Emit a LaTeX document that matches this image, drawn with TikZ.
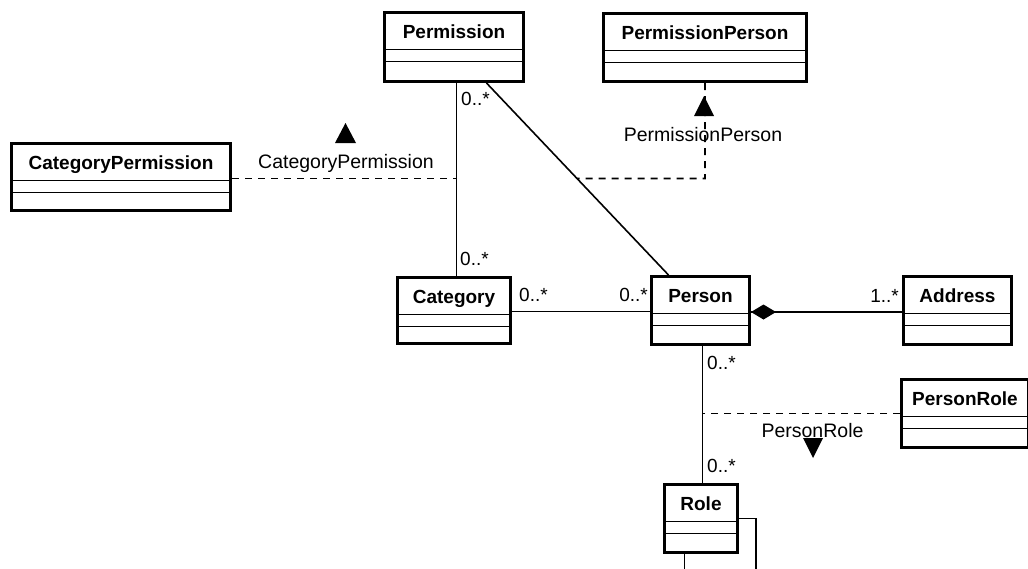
\documentclass[tikz,border=0pt]{standalone}
\usepackage{fontspec}
\setmainfont{Liberation Sans}
\usetikzlibrary{calc}

\tikzset{
  classbox/.style={draw=black, line width=3pt, inner sep=0pt, fill=white, anchor=north west},
  classtitle/.style={font=\fontsize{19}{22}\selectfont\bfseries, inner sep=0pt, anchor=base},
  divider/.style={line width=1.6pt},
  assoc/.style={line width=1.6pt},
  assocclass/.style={line width=1.7pt, dash pattern=on 7pt off 6pt},
  mult/.style={font=\fontsize{19}{22}\selectfont, inner sep=0pt},
  assocname/.style={font=\fontsize{19.5}{22}\selectfont, inner sep=0pt, anchor=base},
  navtri/.style={fill=black},
}

% UML class: name, left, top, width, height, title
\newcommand\umlclass[6]{%
  \node[classbox, minimum width=#4pt, minimum height=#5pt] (#1) at (#2,#3) {};
  \node[classtitle] (#1-title) at ([yshift=-27pt]#1.north) {#6};
  \draw[divider] ([yshift=-38.5pt]#1.north west) -- ([yshift=-38.5pt]#1.north east);
  \draw[divider] ([yshift=-50.5pt]#1.north west) -- ([yshift=-50.5pt]#1.north east);
}

\begin{document}
\begin{tikzpicture}[x=1pt, y=-1pt]
  \useasboundingbox (0,0) rectangle (1028,568);
  \clip (0,0) rectangle (1028,568);

  % classes
  \umlclass{perm}{383}{11}{139}{69}{Permission}
  \umlclass{permperson}{602}{12}{203}{68}{PermissionPerson}
  \umlclass{catperm}{10}{142}{219}{67}{CategoryPermission}
  \umlclass{cat}{396}{276}{113}{66}{Category}
  \umlclass{person}{650}{275}{98}{68}{Person}
  \umlclass{address}{902}{275}{108}{68}{Address}
  \umlclass{personrole}{900}{378}{127}{68}{PersonRole}
  \umlclass{role}{663}{483}{73}{68}{Role}

  % association end points
  \coordinate (pcTop) at ([xshift=2.5pt]perm.south);
  \coordinate (pcBot) at (pcTop |- cat.north);
  \coordinate (ppTop) at ([xshift=32.5pt]perm.south);
  \coordinate (ppBot) at ([xshift=-32pt]person.north);
  \coordinate (prTop) at ([xshift=2pt]person.south);
  \coordinate (prBot) at (prTop |- role.north);

  % associations
  \draw[assoc] (pcTop) -- (pcBot);
  \draw[assoc] (ppTop) -- (ppBot);
  \draw[assoc] ([yshift=-1pt]cat.east) -- ([yshift=-1pt]person.west);
  \draw[assoc] ([yshift=-1.5pt]person.east) -- ([yshift=-1.5pt]address.west);
  \fill ([yshift=-1.5pt]person.east) -- ++(12.5,-7.5) -- ++(12.5,7.5) -- ++(-12.5,7.5) -- cycle;
  \draw[assoc] (prTop) -- (prBot);
  \draw[assoc] (role.east) -| (756,575);
  \draw[assoc] ([xshift=-16.5pt]role.south) -- ([xshift=-16.5pt]role.south |- 0,575);

  % association classes
  \coordinate (cpJoin) at ([yshift=-1.5pt]catperm.east -| pcTop);
  \draw[assocclass] ([yshift=-1.5pt]catperm.east) -- (cpJoin);
  \coordinate (ppCorner) at (permperson.south |- cpJoin);
  \coordinate (ppJoin) at (intersection of ppTop--ppBot and ppCorner--cpJoin);
  \draw[assocclass, line join=miter] (permperson.south) -- (ppCorner) -- (ppJoin);
  \coordinate (prJoin) at (personrole.west -| prTop);
  \draw[assocclass] (personrole.west) -- (prJoin);

  % association names with reading direction
  \node[assocname] (cpName) at (346,168) {CategoryPermission};
  \fill[navtri] (345.5,123) -- (356,143) -- (335,143) -- cycle;
  \node[assocname] (ppName) at (703,141) {PermissionPerson};
  \fill[navtri] (704,96) -- (714,116) -- (694,116) -- cycle;
  \node[assocname] (prName) at (812.5,437) {PersonRole};
  \fill[navtri] (803,438) -- (823,438) -- (813,458) -- cycle;

  % multiplicities
  \node[mult, anchor=base west] (m1) at (461,105) {0..*};
  \node[mult, anchor=base west] (m2) at (460,265) {0..*};
  \node[mult, anchor=base west] (m3) at (519,301) {0..*};
  \node[mult, anchor=base east] (m4) at (648,301) {0..*};
  \node[mult, anchor=base east] (m5) at (899,302) {1..*};
  \node[mult, anchor=base west] (m6) at (707,369) {0..*};
  \node[mult, anchor=base west] (m7) at (707,472) {0..*};
\end{tikzpicture}
\end{document}
